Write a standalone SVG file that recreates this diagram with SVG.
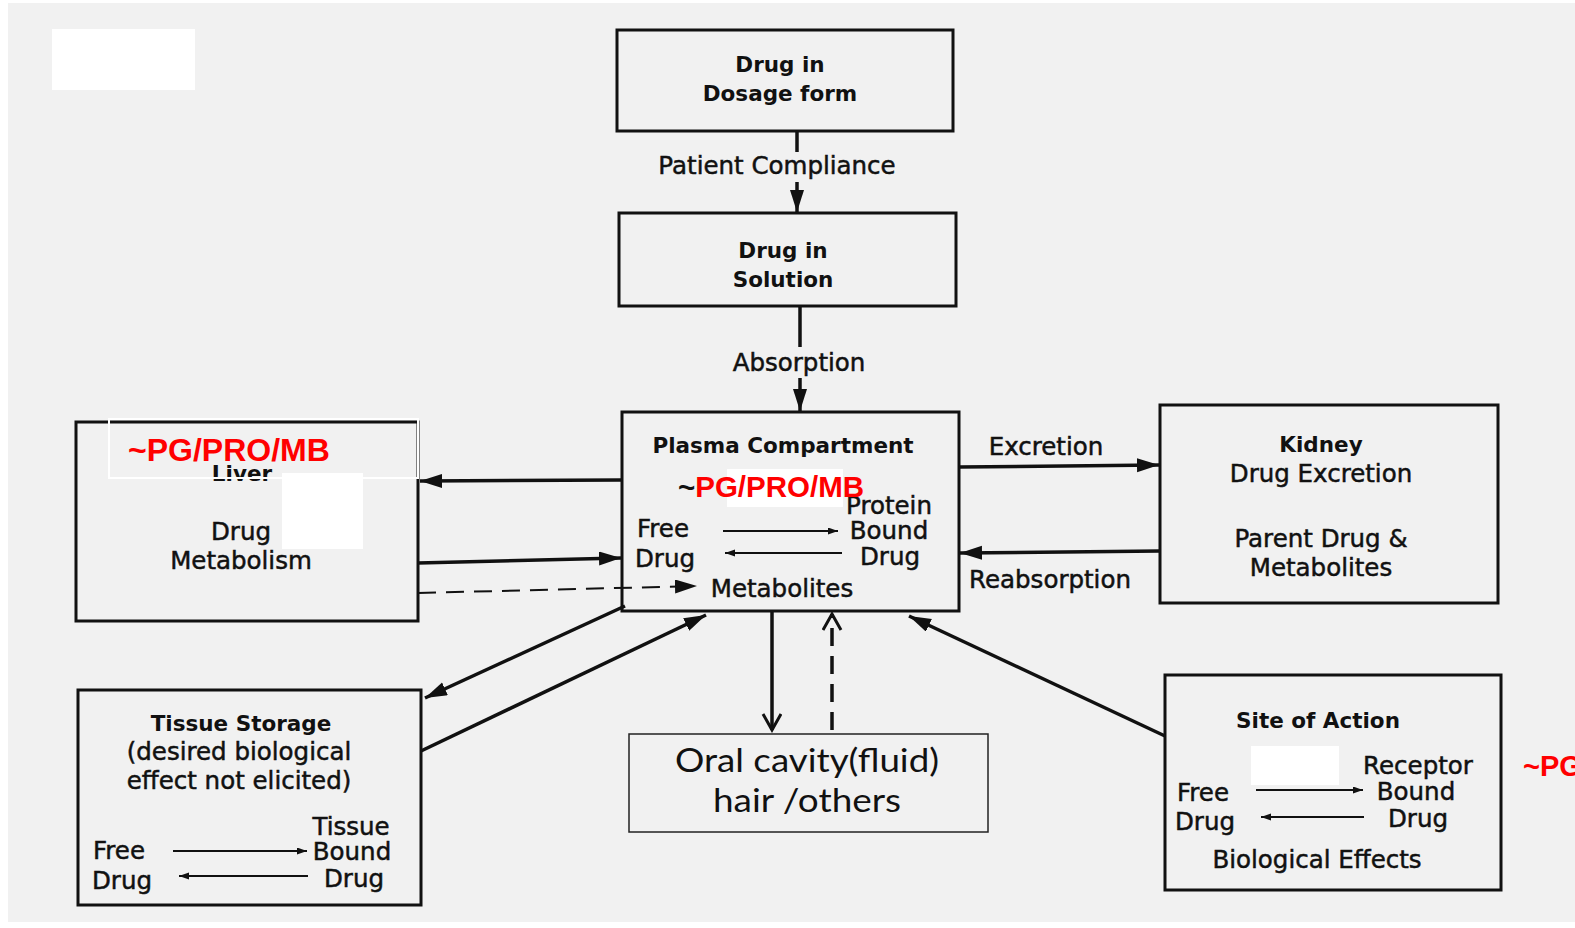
<svg xmlns="http://www.w3.org/2000/svg" width="1575" height="928" viewBox="0 0 1575 928">
<style>
.box{fill:none;stroke:#111;stroke-width:3}
.t{font-family:"DejaVu Sans",sans-serif;font-size:24.5px;fill:#111;stroke:#111;stroke-width:0.5}
.b{font-family:"DejaVu Sans",sans-serif;font-size:21.5px;font-weight:bold;fill:#111}
.m{text-anchor:middle}
.c{fill:none;stroke:#111;stroke-width:3.5}
.cs{fill:none;stroke:#111;stroke-width:2}
.d{stroke-dasharray:18 10}
.red{font-family:"Liberation Sans",Arial,sans-serif;font-weight:bold;fill:#ff0000}
.oral{font-family:Lato,"Open Sans",sans-serif;font-size:33px;fill:#111}
</style>
<defs>
<marker id="ah" markerUnits="userSpaceOnUse" markerWidth="24" markerHeight="16" refX="22" refY="7" orient="auto"><path d="M0,0 L22,7 L0,14 z" fill="#111"/></marker>
<marker id="ahs" markerUnits="userSpaceOnUse" markerWidth="12" markerHeight="8" refX="10" refY="3.5" orient="auto"><path d="M0,0 L10,3.5 L0,7 z" fill="#111"/></marker>
<marker id="ao" markerUnits="userSpaceOnUse" markerWidth="20" markerHeight="22" refX="17" refY="10" orient="auto"><path d="M1,1 L17,10 L1,19" fill="none" stroke="#111" stroke-width="3"/></marker>
</defs>
<rect x="0" y="0" width="1575" height="928" fill="#ffffff"/>
<rect x="8" y="3" width="1567" height="919" fill="#f1f1f1"/>
<rect x="52" y="29" width="143" height="61" fill="#ffffff"/>

<g id="connectors">
<line class="c" x1="797" y1="131" x2="797" y2="152"/>
<line class="c" x1="797" y1="182" x2="797" y2="212" marker-end="url(#ah)"/>
<line class="c" x1="800" y1="306" x2="800" y2="347"/>
<line class="c" x1="800" y1="378" x2="800" y2="411" marker-end="url(#ah)"/>
<line class="c" x1="622" y1="480" x2="420" y2="481" marker-end="url(#ah)"/>
<line class="c" x1="418" y1="563" x2="621" y2="558" marker-end="url(#ah)"/>
<line class="cs d" x1="418" y1="593" x2="697" y2="586" marker-end="url(#ah)"/>
<line class="c" x1="959" y1="467" x2="1159" y2="465" marker-end="url(#ah)"/>
<line class="c" x1="1160" y1="551" x2="960" y2="553" marker-end="url(#ah)"/>
<line class="c" x1="625" y1="606" x2="425" y2="698" marker-end="url(#ah)"/>
<line class="c" x1="421" y1="751" x2="706" y2="615" marker-end="url(#ah)"/>
<line class="c" x1="772" y1="612" x2="772" y2="730" marker-end="url(#ao)"/>
<line class="c d" x1="832" y1="730" x2="832" y2="614" marker-end="url(#ao)"/>
<line class="c" x1="1165" y1="736" x2="909" y2="616" marker-end="url(#ah)"/>
<text class="t m" x="777" y="174">Patient Compliance</text>
<text class="t m" x="799" y="371">Absorption</text>
<text class="t m" x="1046" y="455">Excretion</text>
<text class="t m" x="1050" y="588">Reabsorption</text>
</g>

<g id="dosage">
<rect class="box" x="617" y="30" width="336" height="101"/>
<text class="b m" x="780" y="72">Drug in</text>
<text class="b m" x="780" y="101">Dosage form</text>
</g>

<g id="solution">
<rect class="box" x="619" y="213" width="337" height="93"/>
<text class="b m" x="783" y="258">Drug in</text>
<text class="b m" x="783" y="287">Solution</text>
</g>

<g id="plasma">
<rect class="box" x="622" y="412" width="337" height="199"/>
<text class="b m" x="783" y="453">Plasma Compartment</text>
<text class="t" x="637" y="537">Free</text>
<text class="t" x="635" y="567">Drug</text>
<line class="cs" x1="723" y1="531" x2="838" y2="531" marker-end="url(#ahs)"/>
<line class="cs" x1="842" y1="553" x2="725" y2="553" marker-end="url(#ahs)"/>
<text class="t m" x="889" y="514">Protein</text>
<text class="t m" x="889" y="539">Bound</text>
<text class="t m" x="890" y="565">Drug</text>
<text class="t m" x="782" y="597">Metabolites</text>
<rect x="727" y="469" width="116" height="38" fill="#ffffff"/>
<text class="red" x="678" y="497" font-size="29.5"><tspan fill="#111">~</tspan>PG/PRO/MB</text>
</g>

<g id="liver">
<rect class="box" x="76" y="422" width="342" height="199"/>
<text class="b m" x="242" y="481">Liver</text>
<text class="t m" x="241" y="540">Drug</text>
<text class="t m" x="241" y="569">Metabolism</text>
<rect x="282" y="473" width="81" height="76" fill="#ffffff"/>
<rect x="109" y="419" width="309" height="59" fill="none" stroke="#ffffff" stroke-width="2"/>
<text class="red" x="128" y="461" font-size="32">~PG/PRO/MB</text>
</g>

<g id="kidney">
<rect class="box" x="1160" y="405" width="338" height="198"/>
<text class="b m" x="1321" y="452">Kidney</text>
<text class="t m" x="1321" y="482">Drug Excretion</text>
<text class="t m" x="1321" y="547">Parent Drug &amp;</text>
<text class="t m" x="1321" y="576">Metabolites</text>
</g>

<g id="tissue">
<rect class="box" x="78" y="690" width="343" height="215"/>
<text class="b m" x="241" y="731">Tissue Storage</text>
<text class="t m" x="239" y="760">(desired biological</text>
<text class="t m" x="239" y="789">effect not elicited)</text>
<text class="t m" x="351" y="835">Tissue</text>
<text class="t m" x="352" y="860">Bound</text>
<text class="t m" x="354" y="887">Drug</text>
<text class="t" x="93" y="859">Free</text>
<text class="t" x="92" y="889">Drug</text>
<line class="cs" x1="173" y1="851" x2="307" y2="851" marker-end="url(#ahs)"/>
<line class="cs" x1="308" y1="876" x2="179" y2="876" marker-end="url(#ahs)"/>
</g>

<g id="oral">
<rect x="629" y="734" width="359" height="98" fill="none" stroke="#222" stroke-width="1.5"/>
<text class="oral m" x="807" y="772" textLength="264" lengthAdjust="spacingAndGlyphs">Oral cavity(fluid)</text>
<text class="oral m" x="807" y="812" textLength="188" lengthAdjust="spacingAndGlyphs">hair /others</text>
</g>

<g id="site">
<rect class="box" x="1165" y="675" width="336" height="215"/>
<text class="b m" x="1318" y="728">Site of Action</text>
<rect x="1251" y="746" width="88" height="39" fill="#ffffff"/>
<text class="t m" x="1418" y="774">Receptor</text>
<text class="t m" x="1416" y="800">Bound</text>
<text class="t m" x="1418" y="827">Drug</text>
<text class="t" x="1177" y="801">Free</text>
<text class="t" x="1175" y="830">Drug</text>
<line class="cs" x1="1256" y1="790" x2="1363" y2="790" marker-end="url(#ahs)"/>
<line class="cs" x1="1364" y1="817" x2="1261" y2="817" marker-end="url(#ahs)"/>
<text class="t m" x="1317" y="868">Biological Effects</text>
</g>

<text class="red" x="1523" y="776" font-size="29">~PG/PRO/MB</text>
</svg>
